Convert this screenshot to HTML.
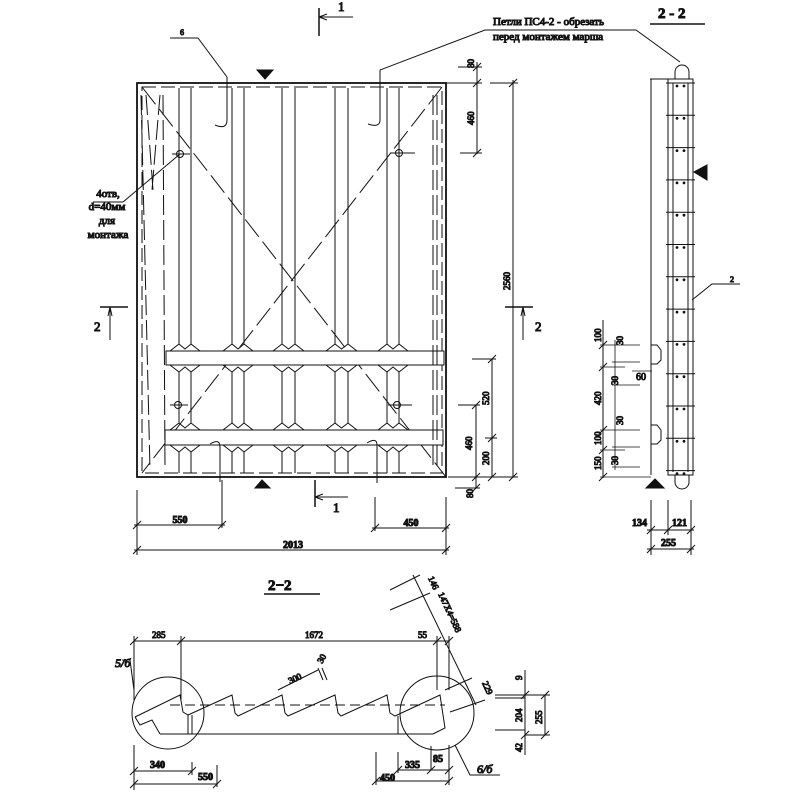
<!DOCTYPE html>
<html><head><meta charset="utf-8"><style>
html,body{margin:0;padding:0;background:#fff;}
svg{display:block;}
text{font-family:"Liberation Serif",serif;fill:#111;}
</style></head><body>
<svg id="s" width="800" height="800" viewBox="0 0 800 800" xmlns="http://www.w3.org/2000/svg" stroke="#111" fill="none" stroke-width="1">
<!-- main plan -->
<rect x="137" y="83" width="309" height="394" stroke-width="1.8"/>
<rect x="142" y="87" width="300" height="386" stroke-dasharray="14,5"/>
<line x1="142" y1="87" x2="446" y2="477" stroke-dasharray="22,6"/>
<line x1="442" y1="87" x2="142" y2="473" stroke-dasharray="22,6"/>
<!-- bands -->
<rect x="166" y="351" width="278" height="14" fill="#fff"/>
<rect x="165" y="430" width="278" height="15" fill="#fff"/>
<g id="ribs"></g>
<!-- left edge lines -->
<g stroke-dasharray="20,5">
<line x1="141" y1="95" x2="150" y2="470"/>
<line x1="146" y1="95" x2="153" y2="190"/>
<line x1="160" y1="95" x2="152" y2="190"/>
<line x1="163" y1="95" x2="165" y2="470"/>
<line x1="433" y1="95" x2="433" y2="470"/>
<line x1="437" y1="95" x2="437" y2="470"/>
</g>
<!-- holes -->
<g>
<circle cx="180" cy="154" r="3.5"/><line x1="172" y1="154" x2="190" y2="154"/>
<circle cx="399" cy="153" r="3.5"/><line x1="390" y1="153" x2="415" y2="153"/>
<circle cx="178" cy="405" r="3.5"/><line x1="170" y1="405" x2="188" y2="405"/>
<circle cx="397" cy="405" r="3.5"/><line x1="388" y1="405" x2="412" y2="405"/>
</g>
<!-- hooks -->
<path d="M227 77 V120 Q227 130 215 125"/>
<path d="M380 70 V120 Q380 128 368 124"/>
<path d="M220 482 V447 Q220 438 210 444"/>
<path d="M377 483 V445 Q377 437 367 443"/>
<!-- leaders -->
<polyline points="170,38 198,38 227,77"/>
<text x="180" y="35" font-size="8">6</text>
<polyline points="380,70 485,30 636,30 680,62"/>
<text x="493" y="25" font-size="11">Петли ПС4-2 - обрезать</text>
<text x="493" y="40" font-size="11">перед монтажем марша</text>
<polyline points="123,202 93,202"/><line x1="123" y1="202" x2="180" y2="154"/>
<text x="108" y="197" font-size="11" text-anchor="middle">4отв,</text>
<text x="107" y="210" font-size="11" text-anchor="middle">d=40мм</text>
<text x="107" y="224" font-size="11" text-anchor="middle">для</text>
<text x="108" y="238" font-size="11" text-anchor="middle">монтажа</text>
<!-- triangles -->
<polygon points="257,70 273,70 265,79" fill="#111"/>
<polygon points="255,488 270,488 262,480" fill="#111"/>
<!-- section marks -->
<line x1="319" y1="8" x2="319" y2="36" stroke-width="1.5"/><line x1="319" y1="17" x2="353" y2="17"/><path d="M319 17 l8 -3 M319 17 l8 3"/>
<text x="338" y="11" font-size="13">1</text>
<line x1="315" y1="480" x2="315" y2="507" stroke-width="1.5"/><line x1="315" y1="497" x2="348" y2="497"/><path d="M315 497 l8 -3 M315 497 l8 3"/>
<text x="333" y="512" font-size="13">1</text>
<line x1="100" y1="307" x2="128" y2="307" stroke-width="1.5"/><line x1="110" y1="307" x2="110" y2="340"/><path d="M110 307 l-2 9 M110 307 l2 9"/>
<text x="94" y="331" font-size="13">2</text>
<line x1="505" y1="307" x2="533" y2="307" stroke-width="1.5"/><line x1="523" y1="307" x2="523" y2="340"/><path d="M523 307 l-2 9 M523 307 l2 9"/>
<text x="535" y="331" font-size="13">2</text>
<!-- right dims -->
<g id="ticks"></g>
<line x1="477" y1="62" x2="477" y2="154"/>
<line x1="458" y1="67" x2="482" y2="67"/><line x1="446" y1="83" x2="482" y2="83"/><line x1="460" y1="153" x2="482" y2="153"/>
<line x1="513" y1="80" x2="513" y2="477"/><line x1="490" y1="83" x2="518" y2="83"/>
<line x1="492" y1="359" x2="492" y2="477"/><line x1="472" y1="359" x2="496" y2="359"/><line x1="485" y1="438" x2="497" y2="438"/>
<line x1="476" y1="405" x2="476" y2="488"/><line x1="458" y1="405" x2="480" y2="405"/>
<line x1="448" y1="477" x2="518" y2="477"/><line x1="455" y1="488" x2="480" y2="488"/>
<g font-size="9">
<text transform="translate(474,68) rotate(-90)">80</text>
<text transform="translate(474,125) rotate(-90)">460</text>
<text transform="translate(510,290) rotate(-90)">2560</text>
<text transform="translate(489,405) rotate(-90)">520</text>
<text transform="translate(472,450) rotate(-90)">460</text>
<text transform="translate(489,465) rotate(-90)">200</text>
<text transform="translate(473,498) rotate(-90)">80</text>
</g>
<!-- bottom dims -->
<line x1="137" y1="490" x2="137" y2="555"/><line x1="222" y1="480" x2="222" y2="528"/>
<line x1="375" y1="497" x2="375" y2="531"/><line x1="446" y1="497" x2="446" y2="555"/>
<line x1="134" y1="525" x2="225" y2="525"/><line x1="372" y1="528" x2="449" y2="528"/><line x1="134" y1="550" x2="449" y2="550"/>
<g font-size="10" font-weight="bold">
<text x="180" y="523" text-anchor="middle">550</text>
<text x="411" y="526" text-anchor="middle">450</text>
<text x="293" y="548" text-anchor="middle">2013</text>
</g>
<!-- right view 2-2 -->
<text x="658" y="18" font-size="15" font-weight="bold" font-family="Liberation Sans">2 - 2</text>
<line x1="650" y1="24" x2="705" y2="24" stroke-width="1.5"/>
<polyline points="650,79 668,79"/><line x1="651" y1="79" x2="651" y2="475"/>
<rect x="668" y="79" width="25" height="396"/>
<line x1="673" y1="83" x2="673" y2="472"/><line x1="688" y1="83" x2="688" y2="472"/>
<path d="M675 79 V72 A7 7 0 0 1 689 72 V79"/>
<path d="M675 475 V482 A7 7 0 0 0 689 482 V475"/>
<g id="ties"></g>
<polygon points="694,172 707,165 707,180" fill="#111"/>
<polygon points="646,488 664,488 655,479" fill="#111"/>
<path d="M651 345 h6 l4 5 v10 l-4 4 h-6"/>
<path d="M651 425 h6 l4 5 v10 l-4 4 h-6"/>
<polyline points="692,300 712,284 740,284"/>
<text x="730" y="282" font-size="8">2</text>
<!-- left dims right view -->
<line x1="603" y1="320" x2="603" y2="478"/>
<g stroke-width="0.8">
<line x1="600" y1="345" x2="640" y2="345"/><line x1="612" y1="362" x2="640" y2="362"/>
<line x1="600" y1="367" x2="625" y2="367"/><line x1="612" y1="385" x2="640" y2="385"/>
<line x1="600" y1="430" x2="640" y2="430"/><line x1="612" y1="447" x2="640" y2="447"/>
<line x1="600" y1="450" x2="625" y2="450"/><line x1="612" y1="467" x2="640" y2="467"/>
<line x1="600" y1="477" x2="651" y2="477"/>
<line x1="615" y1="340" x2="615" y2="470"/>
<line x1="632" y1="371" x2="652" y2="371"/>
</g>
<g font-size="9">
<text transform="translate(601,342) rotate(-90)">100</text>
<text transform="translate(601,405) rotate(-90)">420</text>
<text transform="translate(601,445) rotate(-90)">100</text>
<text transform="translate(601,470) rotate(-90)">150</text>
<text transform="translate(623,345) rotate(-90)">30</text>
<text transform="translate(618,385) rotate(-90)">30</text>
<text transform="translate(623,425) rotate(-90)">30</text>
<text transform="translate(618,465) rotate(-90)">30</text>
<text x="636" y="380" font-size="10">60</text>
</g>
<line x1="651" y1="500" x2="651" y2="555"/><line x1="668" y1="500" x2="668" y2="535"/><line x1="691" y1="500" x2="691" y2="555"/>
<line x1="647" y1="530" x2="694" y2="530"/><line x1="647" y1="549" x2="694" y2="549"/>
<g font-size="10" font-weight="bold">
<text x="632" y="526">134</text><text x="672" y="526">121</text><text x="661" y="546">255</text>
</g>
<!-- bottom section -->
<text x="268" y="590" font-size="15" font-weight="bold" font-family="Liberation Sans">2−2</text>
<line x1="264" y1="594" x2="320" y2="594" stroke-width="1.5"/>
<circle cx="168" cy="713" r="36"/>
<circle cx="437" cy="713" r="37"/>
<line x1="170" y1="705" x2="445" y2="705" stroke-dasharray="10,5"/>
<line x1="160" y1="734" x2="433" y2="734"/>
<polyline points="135,717 140,725 152,720 160,734"/>
<polyline points="135,717 180,695 183,712 188,715 232,695 235,713 238,716 282,695 285,713 288,716 335,695 338,713 341,716 387,695 390,713 395,716 440,695 445,728 433,734"/>
<line x1="398" y1="716" x2="398" y2="734"/>
<line x1="188" y1="715" x2="188" y2="734"/><line x1="192" y1="715" x2="192" y2="734"/>
<line x1="134" y1="641" x2="449" y2="641"/>
<line x1="134" y1="636" x2="134" y2="700"/><line x1="181" y1="636" x2="181" y2="700"/>
<line x1="437" y1="636" x2="437" y2="690"/><line x1="449" y1="636" x2="449" y2="690"/>
<line x1="278" y1="690" x2="318" y2="670"/><line x1="318" y1="668" x2="323" y2="680"/><line x1="322" y1="668" x2="327" y2="680"/>
<line x1="413" y1="575" x2="476" y2="705"/><line x1="390" y1="590" x2="420" y2="575"/><line x1="390" y1="610" x2="430" y2="593"/>
<line x1="445" y1="690" x2="472" y2="678"/><line x1="450" y1="712" x2="485" y2="700"/>
<polyline points="122,660 130,660 134,690"/>
<text x="115" y="667" font-size="12" font-style="italic">5/б</text>
<polyline points="455,745 470,775 500,775"/>
<text x="477" y="773" font-size="12" font-style="italic">6/б</text>
<g font-size="9">
<text x="152" y="638">285</text><text x="305" y="638">1672</text><text x="418" y="638">55</text>
<text transform="translate(290,684) rotate(-25)">300</text>
<text transform="translate(322,664) rotate(-60)">30</text>
<text transform="translate(428,578) rotate(65)">146</text>
<text transform="translate(438,594) rotate(65)">147Х4=588</text>
<text transform="translate(482,683) rotate(65)">229</text>
</g>
<line x1="134" y1="745" x2="134" y2="790"/><line x1="134" y1="771" x2="192" y2="771"/><line x1="192" y1="762" x2="192" y2="775"/>
<line x1="134" y1="784" x2="217" y2="784"/><line x1="217" y1="765" x2="217" y2="787"/>
<line x1="376" y1="752" x2="376" y2="785"/><line x1="376" y1="781" x2="449" y2="781"/>
<line x1="398" y1="752" x2="398" y2="773"/><line x1="398" y1="770" x2="449" y2="770"/>
<line x1="431" y1="746" x2="431" y2="770"/><line x1="449" y1="745" x2="449" y2="785"/>
<g font-size="10" font-weight="bold">
<text x="150" y="768">340</text><text x="198" y="780">550</text>
<text x="380" y="781">450</text><text x="405" y="768">335</text><text x="433" y="762">85</text>
</g>
<line x1="495" y1="695" x2="525" y2="695"/><line x1="495" y1="698" x2="525" y2="698"/>
<line x1="495" y1="730" x2="525" y2="730"/>
<line x1="525" y1="670" x2="525" y2="755"/><line x1="525" y1="695" x2="550" y2="695"/><line x1="525" y1="735" x2="550" y2="735"/>
<line x1="545" y1="695" x2="545" y2="735"/>
<g font-size="9">
<text transform="translate(522,680) rotate(-90)">9</text>
<text transform="translate(522,722) rotate(-90)">204</text>
<text transform="translate(522,752) rotate(-90)">42</text>
<text transform="translate(542,724) rotate(-90)">255</text>
</g>
</svg>
<script>
var NS="http://www.w3.org/2000/svg";
function el(p,t,a){var e=document.createElementNS(NS,t);for(var k in a)e.setAttribute(k,a[k]);p.appendChild(e);return e;}
var r=document.getElementById("ribs");
[[179,191],[232,244],[282,295],[335,348],[387,399]].forEach(function(p){
 var a=p[0],b=p[1],m=(a+b)/2;
 [[88,344],[372,423],[452,473]].forEach(function(s){el(r,"line",{x1:a,y1:s[0],x2:a,y2:s[1]});el(r,"line",{x1:b,y1:s[0],x2:b,y2:s[1]});});
 el(r,"polyline",{points:(a-9)+",351 "+a+",344 "+m+",349 "+b+",344 "+(b+9)+",351"});
 el(r,"polyline",{points:(a-9)+",365 "+a+",372 "+m+",367 "+b+",372 "+(b+9)+",365"});
 el(r,"polyline",{points:(a-9)+",430 "+a+",423 "+m+",428 "+b+",423 "+(b+9)+",430"});
 el(r,"polyline",{points:(a-9)+",445 "+a+",452 "+m+",447 "+b+",452 "+(b+9)+",445"});
});
var t=document.getElementById("ties");
for(var i=0;i<13;i++){var y=83+i*32.3;el(t,"line",{x1:666,y1:y,x2:695,y2:y});
 el(t,"circle",{cx:677,cy:y+3,r:0.9,fill:"#111"});el(t,"circle",{cx:684,cy:y+3,r:0.9,fill:"#111"});}
var k=document.getElementById("ticks");
[[477,67],[477,83],[477,153],[513,83],[513,477],[492,359],[492,438],[492,477],[476,405],[476,477],[476,488],[137,525],[222,525],[375,528],[446,528],[137,550],[446,550],[651,530],[668,530],[691,530],[651,549],[691,549],[134,641],[181,641],[437,641],[449,641],[525,695],[525,735],[545,695],[545,735],[134,771],[192,771],[134,784],[217,784],[376,781],[449,781],[398,770],[431,770],[449,770],[603,345],[603,367],[603,430],[603,450],[603,477]].forEach(function(p){
 el(k,"line",{x1:p[0]-4,y1:p[1]+4,x2:p[0]+4,y2:p[1]-4});});
</script>
</body></html>
